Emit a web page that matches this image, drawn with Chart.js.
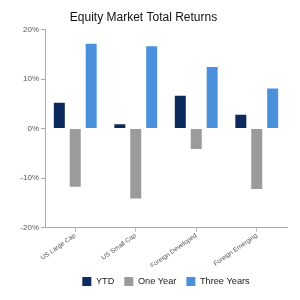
<!DOCTYPE html>
<html>
<head>
<meta charset="utf-8">
<script src="https://cdn.jsdelivr.net/npm/chart.js@4"></script>
<style>
html,body{margin:0;padding:0;background:#fff;}
#wrap{width:300px;height:300px;}
</style>
</head>
<body>
<div id="wrap"><canvas id="c" width="300" height="300"></canvas></div>
<script>
const categories = ["US Large Cap", "US Small Cap", "Foreign Developed", "Foreign Emerging"];
const ytd = [5.2, 0.9, 6.6, 2.8];
const oneYear = [-11.7, -14.1, -4.1, -12.2];
const threeYears = [17.1, 16.6, 12.4, 8.1];
const seriesNames = ["YTD", "One Year", "Three Years"];
const yTicks = [-20, -10, 0, 10, 20];

const ctx = document.getElementById('c').getContext('2d');
new Chart(ctx, {
  type: 'bar',
  data: {
    labels: categories,
    datasets: [
      {label: seriesNames[0], data: ytd, backgroundColor: '#0c2a5c'},
      {label: seriesNames[1], data: oneYear, backgroundColor: '#9b9b9b'},
      {label: seriesNames[2], data: threeYears, backgroundColor: '#4a90da'}
    ]
  },
  options: {
    responsive: false,
    animation: false,
    devicePixelRatio: 1,
    layout: {padding: {left: 0, right: 13, top: 5, bottom: 4}},
    datasets: {bar: {categoryPercentage: 0.79, barPercentage: 0.69}},
    plugins: {
      title: {
        display: true,
        text: 'Equity Market Total Returns',
        color: '#111',
        font: {family: 'Liberation Sans, Arial, sans-serif', size: 12, weight: 'normal'},
        padding: {top: 5, bottom: 5}
      },
      legend: {
        position: 'bottom',
        fullSize: false,
        labels: {
          boxWidth: 9, boxHeight: 9, padding: 10,
          color: '#222',
          font: {family: 'Liberation Sans, Arial, sans-serif', size: 9.2}
        }
      },
      tooltip: {enabled: false}
    },
    scales: {
      x: {
        grid: {display: true, drawOnChartArea: false, drawTicks: true, tickLength: 4, color: '#bbb', offset: false},
        border: {display: true, color: '#aaa'},
        ticks: {
          color: '#555',
          font: {family: 'Liberation Sans, Arial, sans-serif', size: 6.5},
          maxRotation: 35, minRotation: 35, padding: 0
        },
        afterFit: s => { s.height = 39; }
      },
      y: {
        min: -20, max: 20,
        afterBuildTicks: s => { s.ticks = yTicks.map(v => ({value: v})); },
        grid: {display: true, drawOnChartArea: false, drawTicks: true, tickLength: 4, color: '#aaa'},
        border: {display: true, color: '#aaa'},
        ticks: {
          color: '#555',
          font: {family: 'Liberation Sans, Arial, sans-serif', size: 8},
          padding: 2,
          callback: v => v + '%'
        },
        afterFit: s => { s.width = 45; }
      }
    }
  }
});
</script>
</body>
</html>
